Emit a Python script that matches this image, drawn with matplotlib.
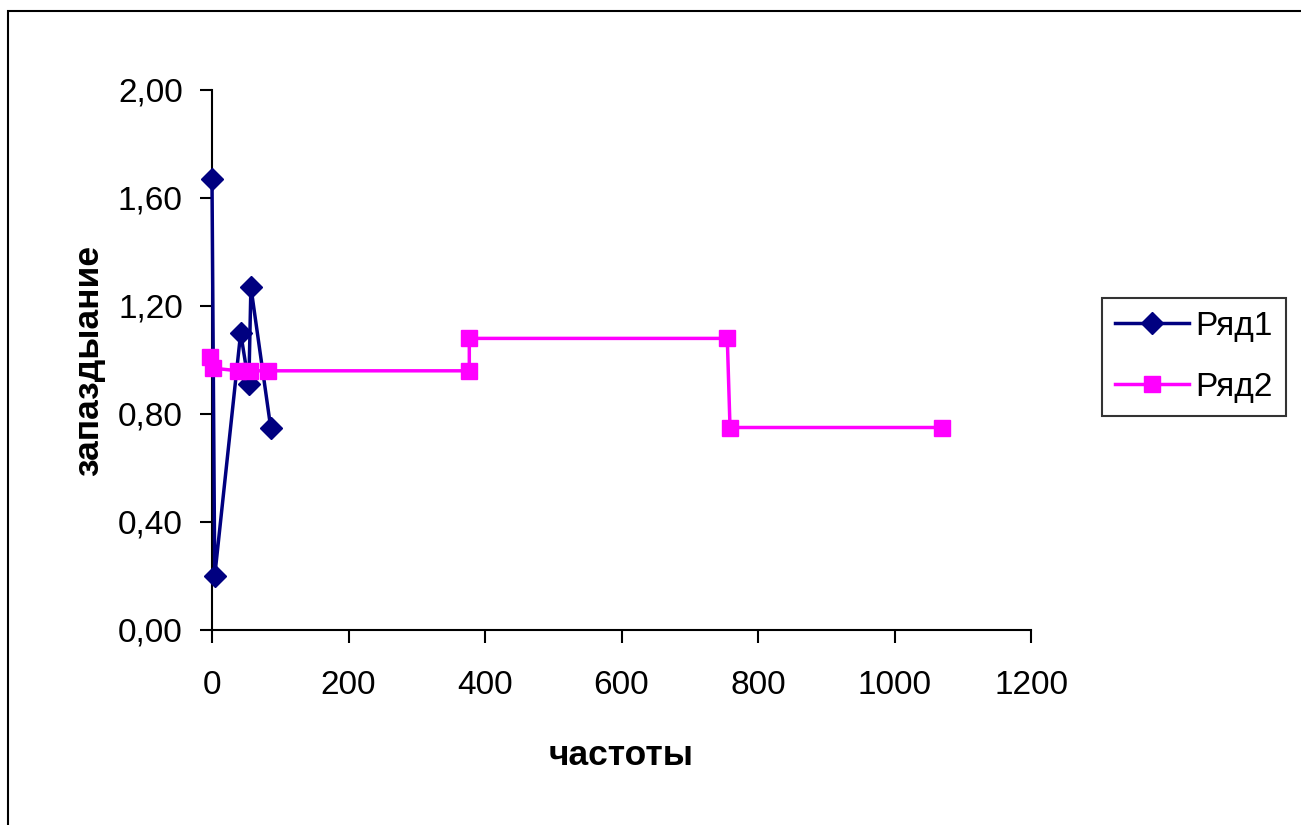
import matplotlib
matplotlib.use('Agg')
import matplotlib.pyplot as plt
from matplotlib.patches import Rectangle
from matplotlib.ticker import FuncFormatter

plt.rcParams['font.family'] = ['Liberation Sans', 'DejaVu Sans']

# Ряд1
x1 = [0, 4, 42, 54, 57, 86]
y1 = [1.67, 0.20, 1.10, 0.91, 1.27, 0.75]
# Ряд2
x2 = [-3, 1, 38, 56, 82, 377, 377, 755, 759, 1069]
y2 = [1.01, 0.97, 0.96, 0.96, 0.96, 0.96, 1.08, 1.08, 0.75, 0.75]

xticks = [0, 200, 400, 600, 800, 1000, 1200]
yticks = [0.0, 0.4, 0.8, 1.2, 1.6, 2.0]

W, H = 1301, 825
fig = plt.figure(figsize=(W / 100, H / 100), dpi=100)
fig.patches.append(Rectangle((8 / W, -0.1), 1.2, 1 - 11 / H + 0.1, transform=fig.transFigure,
                             fill=False, edgecolor='black', linewidth=1.5))

ax = fig.add_axes([212 / W, 1 - 630 / H, (1031 - 212) / W, (630 - 90) / H])

ax.plot(x1, y1, color='#000080', lw=2.5, marker='D', markersize=11,
        markerfacecolor='#000080', markeredgecolor='#000080', label='Ряд1', clip_on=False, zorder=3)
ax.plot(x2, y2, color='#ff00ff', lw=2.5, marker='s', markersize=11,
        markerfacecolor='#ff00ff', markeredgecolor='#ff00ff', label='Ряд2', clip_on=False, zorder=4)

ax.set_xlim(0, 1200)
ax.set_ylim(0, 2.0)
ax.set_xticks(xticks)
ax.set_yticks(yticks)
ax.yaxis.set_major_formatter(FuncFormatter(lambda v, p: f'{v:.2f}'.replace('.', ',')))
ax.tick_params(axis='both', direction='out', length=9, width=1.5, labelsize=24, colors='black')
ax.tick_params(axis='y', pad=12)
ax.tick_params(axis='x', pad=20)
for s in ['top', 'right']:
    ax.spines[s].set_visible(False)
for s in ['left', 'bottom']:
    ax.spines[s].set_linewidth(1.5)

ax.set_xlabel('частоты', fontsize=25.5, fontweight='bold', labelpad=27)
ax.set_ylabel('запаздыание', fontsize=25.5, fontweight='bold', labelpad=9)

leg = ax.legend(loc='center left', bbox_to_anchor=(1102 / W, 1 - 357 / H), bbox_transform=fig.transFigure,
                fontsize=24, frameon=True, fancybox=False, handlelength=2.2, handletextpad=0.2,
                borderpad=0.4, labelspacing=0.9, borderaxespad=0)
leg.get_frame().set_edgecolor('black')
leg.get_frame().set_linewidth(1.5)

fig.savefig('out.png', dpi=100)
